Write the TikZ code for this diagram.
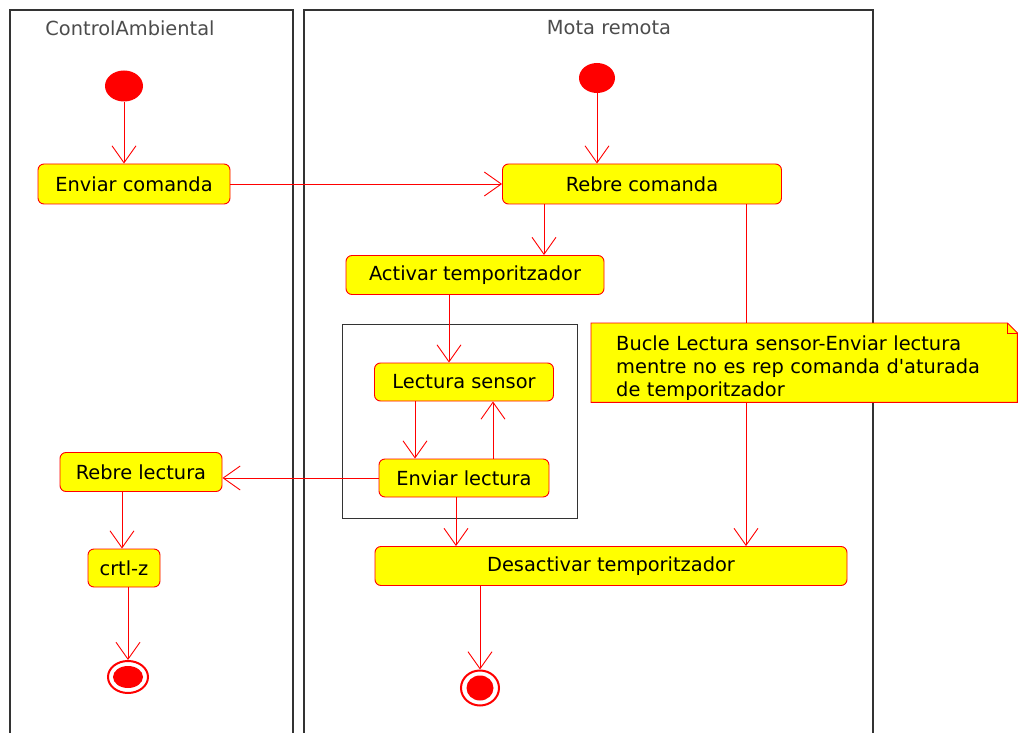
\documentclass[tikz,border=0pt]{standalone}
\usepackage{fontspec}
\setmainfont{DejaVu Sans}[Ligatures=TeXOff]
\usetikzlibrary{arrows.meta,shapes.geometric}
\definecolor{umlred}{RGB}{255,0,0}
\definecolor{umlyellow}{RGB}{255,255,0}
\begin{document}
\begin{tikzpicture}[x=1pt,y=-1pt,
  font=\fontsize{19.4}{22.8}\selectfont,
  lane/.style={draw=black!80, line width=1.6pt, fill=none},
  lanetitle/.style={text=black!70, inner sep=0pt},
  action/.style={draw=umlred, fill=umlyellow, rounded corners=6pt, line width=0.9pt,
    inner sep=0pt, text=black},
  initial/.style={ellipse, fill=umlred, draw=none, inner sep=0pt},
  final/.style={ellipse, draw=umlred, line width=2pt, fill=white, inner sep=0pt},
  flow/.style={draw=umlred, line width=0.9pt, -{Straight Barb[length=17pt,width=24pt]}},
  loopbox/.style={draw=black!80, line width=1.4pt, inner sep=0pt},
  notebox/.style={draw=none, fill=none, inner xsep=25pt, inner ysep=0pt, align=left,
    anchor=north west, text width=376pt, minimum height=79pt, text=black}
]
\useasboundingbox (0,0) rectangle (1018,733);
\clip (0,0) rectangle (1018,733);

% swimlanes
\node[lane, anchor=north west, minimum width=283pt, minimum height=760pt] (laneA) at (9,9) {};
\node[lane, anchor=north west, minimum width=569pt, minimum height=760pt] (laneB) at (303,9) {};
\node[lanetitle] (titleA) at (130,28) {ControlAmbiental};
\node[lanetitle] (titleB) at (609,28) {Mota remota};

% loop region
\node[loopbox, anchor=north west, minimum width=235pt, minimum height=194pt] (loop) at (342,324) {};

% initial nodes
\node[initial, minimum width=38pt, minimum height=31pt] (ini1) at (124,86) {};
\node[initial, minimum width=36pt, minimum height=30pt] (ini2) at (597,78) {};

% actions
\node[action, minimum width=192pt, minimum height=40pt] (enviar) at (134,184) {Enviar comanda};
\node[action, minimum width=279pt, minimum height=40pt] (rebre) at (642,184) {Rebre comanda};
\node[action, minimum width=258pt, minimum height=39pt] (activar) at (475,275) {Activar temporitzador};
\node[action, minimum width=179pt, minimum height=38pt] (lectura) at (464,382) {Lectura sensor};
\node[action, minimum width=170pt, minimum height=38pt] (envlect) at (464,478) {Enviar lectura};
\node[action, minimum width=162pt, minimum height=39pt] (rebrelect) at (141,472) {Rebre lectura};
\node[action, minimum width=72pt, minimum height=38pt] (crtl) at (124,568) {crtl-z};
\node[action, minimum width=472pt, minimum height=39pt] (desact) at (611,566) {Desactivar temporitzador};

% final nodes
\node[final, minimum width=40pt, minimum height=32pt] (fin1) at (128,677) {};
\fill[umlred] (fin1.center) ellipse (15pt and 11pt);
\node[final, minimum width=38pt, minimum height=35pt] (fin2) at (480,688) {};
\fill[umlred] (fin2.center) ellipse (13.5pt and 12.5pt);

% control flows
\draw[flow] (ini1.south) -- (ini1.south |- enviar.north);
\draw[flow] (ini2.south) -- (ini2.south |- rebre.north);
\draw[flow] (enviar.east) -- (rebre.west);
\draw[flow] ([xshift=-98pt]rebre.south) -- ([xshift=-98pt]rebre.south |- activar.north);
\draw[flow] ([xshift=104pt]rebre.south) -- ([xshift=104pt]rebre.south |- desact.north);
\draw[flow] ([xshift=-26pt]activar.south) -- ([xshift=-26pt]activar.south |- lectura.north);
\draw[flow] ([xshift=-49pt]lectura.south) -- ([xshift=-49pt]lectura.south |- envlect.north);
\draw[flow] ([xshift=29pt]envlect.north) -- ([xshift=29pt]envlect.north |- lectura.south);
\draw[flow] (envlect.west) -- (envlect.west -| rebrelect.east);
\draw[flow] ([xshift=-19pt]rebrelect.south) -- ([xshift=-19pt]rebrelect.south |- crtl.north);
\draw[flow] (crtl.south -| fin1.north) -- (fin1.north);
\draw[flow] ([xshift=-8pt]envlect.south) -- ([xshift=-8pt]envlect.south |- desact.north);
\draw[flow] (desact.south -| fin2.north) -- (fin2.north);

% comment note with folded corner, drawn over the flow behind it
\node[notebox] (note) at (591,323) {\phantom{x}};
\fill[umlyellow] (note.north west) -- ([xshift=-10pt]note.north east) -- ([yshift=-10pt]note.north east)
  -- (note.south east) -- (note.south west) -- cycle;
\draw[umlred, line width=0.9pt] (note.north west) -- ([xshift=-10pt]note.north east)
  -- ([yshift=-10pt]note.north east) -- (note.south east) -- (note.south west) -- cycle;
\draw[umlred, line width=0.9pt] ([xshift=-10pt]note.north east) -- ([xshift=-10pt,yshift=-10pt]note.north east)
  -- ([yshift=-10pt]note.north east);
\node[notebox, minimum height=0pt] (notetext) at (591,336) {Bucle Lectura sensor-Enviar lectura\\mentre no es rep comanda d'aturada\\de temporitzador};
\end{tikzpicture}
\end{document}
